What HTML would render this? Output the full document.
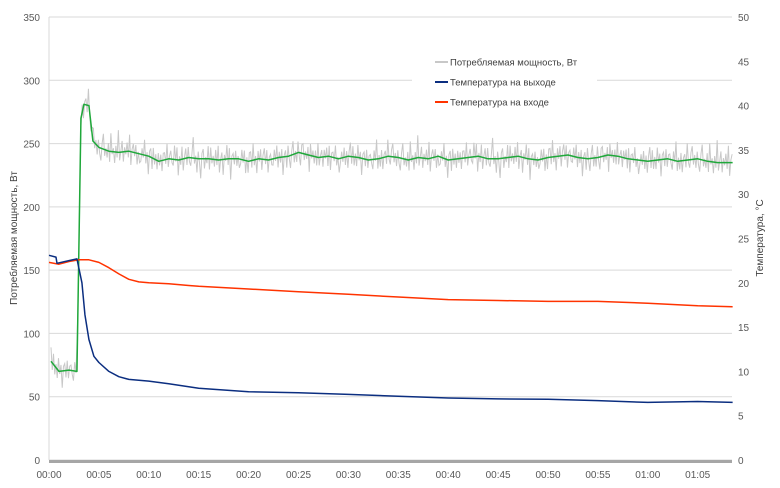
<!DOCTYPE html>
<html><head><meta charset="utf-8"><style>
body{margin:0;background:#fff;}
svg{display:block;font-family:"Liberation Sans",sans-serif;}
</style></head><body>
<svg id="c" width="780" height="488"></svg>
<script>
const powerAvgT=[0.2,1,2,2.8,3.2,3.5,4,4.4,5,6,7,8,9,10,11,12,13,14,15,16,17,18,19,20,21,22,23,24,25,26,27,28,29,30,31,32,33,34,35,36,37,38,39,40,41,42,43,44,45,46,47,48,49,50,51,52,53,54,55,56,57,58,59,60,61,62,63,64,65,66,67,68.5];
const powerAvg=[78,70,71,70,270,281,280,252,247,244,243,244,242,240,236,238,237,239,238,238,237,238,238,236,238,237,239,240,243,241,239,240,238,240,239,237,238,240,239,237,239,238,240,237,238,239,240,238,238,239,240,238,237,239,240,241,239,238,239,241,240,238,237,236,237,238,236,237,238,236,235,235];
const powerNoise=[10,-8,12,-6,4,-10,9,-3,7,-12,5,8,-5,11,-9,3,6,-4,-7,10,-2,14,-11,4,-6,9,-13,2,7,-8,12,-3,-9,5,15,-6,3,-10,8,-4,-14,6,11,-7,2,-5,9,-12,13,-3,4,-8,7,-6,16,-9,1,8,-11,5,-2,10,-7,12,-15,3,6,-4,9,-8,2,-10,-5,7,-3,11,-9,4,-13,6];
const outT=[0,0.7,0.8,2,2.8,3.3,3.6,4,4.5,5,6,7,8,10,12,15,20,25,30,35,40,45,50,55,60,65,68.5];
const outTemp=[23.1,22.9,22.2,22.5,22.7,20,16.4,13.6,11.7,11,10,9.4,9.1,8.9,8.6,8.1,7.7,7.6,7.4,7.2,7.0,6.9,6.86,6.7,6.5,6.6,6.5];
const inT=[0,1,2,3,4,5,6,7,8,9,10,12,14,15,20,25,30,35,40,45,50,55,60,65,68.5];
const inTemp=[22.3,22.1,22.4,22.6,22.6,22.3,21.7,21,20.4,20.1,20,19.9,19.7,19.6,19.3,19,18.7,18.4,18.1,18,17.9,17.9,17.7,17.4,17.3];
const leftTicks=[0,50,100,150,200,250,300,350];
const rightTicks=[0,5,10,15,20,25,30,35,40,45,50];
const xTicks=["00:00","00:05","00:10","00:15","00:20","00:25","00:30","00:35","00:40","00:45","00:50","00:55","01:00","01:05"];

const NS="http://www.w3.org/2000/svg",svg=document.getElementById('c');
const X=t=>49+t*9.98, YL=v=>460-v*443/350, YR=v=>460-v*443/50;
function el(tag,a,p){const e=document.createElementNS(NS,tag);for(const k in a)e.setAttribute(k,a[k]);(p||svg).appendChild(e);return e;}
leftTicks.forEach(v=>{
 const g=el('line',{x1:49,x2:732,y1:YL(v),y2:YL(v),stroke:'#d9d9d9','stroke-width':1});
 
 
 const t=el('text',{x:40,y:YL(v)+4,'text-anchor':'end','font-size':10,fill:'#595959'});t.textContent=v;
 
 
});
rightTicks.forEach(v=>{
 const t=el('text',{x:738,y:YR(v)+4,'font-size':10,fill:'#595959'});t.textContent=v;
 
 
});
xTicks.forEach((s,i)=>{
 const t=el('text',{x:X(i*5),y:478,'text-anchor':'middle','font-size':10,fill:'#595959'});t.textContent=s;
 
 
});
const ax=el('line',{x1:49,x2:732,y1:461.5,y2:461.5,stroke:'#a6a6a6','stroke-width':3});


const ly=el('line',{x1:49,x2:49,y1:17,y2:460,stroke:'#d9d9d9'});


function interp(ts,vs,t){for(let i=1;i<ts.length;i++){if(t<=ts[i]){const f=(t-ts[i-1])/(ts[i]-ts[i-1]);return vs[i-1]+f*(vs[i]-vs[i-1]);}}return vs[vs.length-1];}
let pts=[];
for(let k=0;k<=548;k++){const t=0.2+k*0.125;if(t>68.5)break;const n=powerNoise[k%powerNoise.length]*(k%3===0?1.1:0.7);pts.push(X(t).toFixed(2)+','+YL(interp(powerAvgT,powerAvg,t)+n).toFixed(1));}
const gp=el('polyline',{points:pts.join(' '),fill:'none',stroke:'#c8c8c8','stroke-width':1});


function line(ts,vs,Y,col,name){const p=el('polyline',{points:ts.map((t,i)=>X(t)+','+Y(vs[i]).toFixed(1)).join(' '),fill:'none',stroke:col,'stroke-width':1.5,'stroke-linejoin':'round'});
 
 }
line(powerAvgT,powerAvg,YL,'#1fa83a','power-average-line');
line(inT,inTemp,YR,'#ff3300','inlet-temperature-line');
line(outT,outTemp,YR,'#0b2e80','outlet-temperature-line');
const lg=el('g',{});


el('rect',{x:412,y:50,width:185,height:62,fill:'#fff'},lg);
[['Потребляемая мощность, Вт','#c8c8c8',62],['Температура на выходе','#0b2e80',82],['Температура на входе','#ff3300',102]].forEach(([s,c,y])=>{
 const g=el('g',{},lg);
 
 
 el('line',{x1:435,x2:448,y1:y,y2:y,stroke:c,'stroke-width':2},g);
 const t=el('text',{x:450,y:y+3.5,'font-size':9.5,fill:'#404040'},g);t.textContent=s;
});
const yt=el('text',{x:0,y:0,transform:'translate(17,238) rotate(-90)','text-anchor':'middle','font-size':10,fill:'#404040'});yt.textContent='Потребляемая мощность, Вт';


const yr=el('text',{x:0,y:0,transform:'translate(763,238) rotate(-90)','text-anchor':'middle','font-size':10,fill:'#404040'});yr.textContent='Температура, °C';


</script>
</body></html>
